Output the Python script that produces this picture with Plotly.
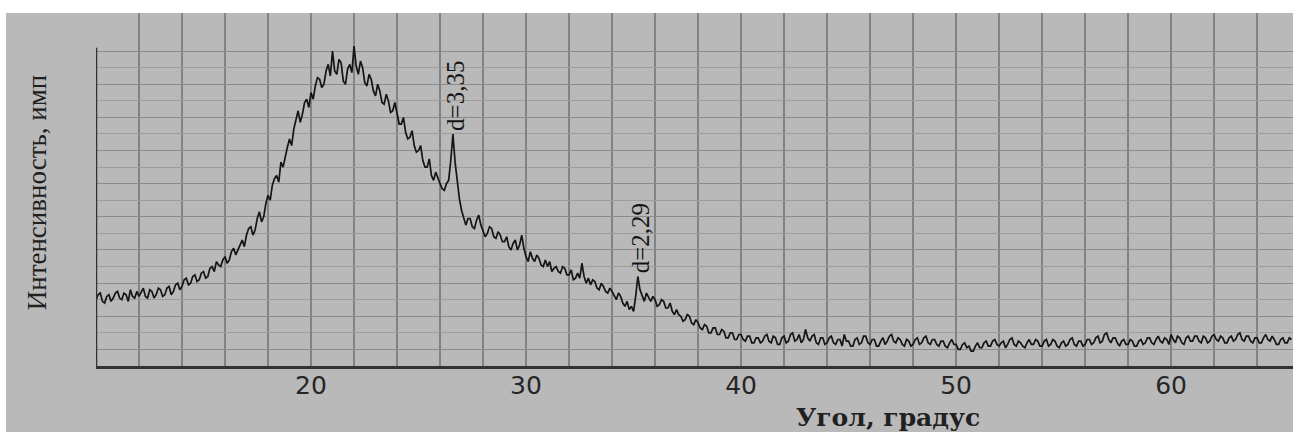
import plotly.graph_objects as go

# ---- data ----
angle_start = 10.0
angle_step = 0.1
intensity = [
    4.0, 4.3, 4.4, 3.9, 3.8, 4.2, 4.3, 3.9, 4.1, 4.4,   # 10
    4.5, 4.1, 4.0, 4.4, 4.3, 3.9, 4.6, 4.2, 4.1, 4.5,   # 11
    4.2, 4.5, 4.7, 4.2, 4.1, 4.6, 4.5, 4.1, 4.3, 4.7,   # 12
    4.6, 4.2, 4.3, 4.7, 4.8, 4.3, 4.5, 4.9, 5.0, 4.6,   # 13
    4.8, 5.2, 5.3, 4.9, 5.0, 5.4, 5.5, 5.1, 5.2, 5.6,   # 14
    5.7, 5.3, 5.4, 5.9, 6.0, 5.7, 6.3, 6.1, 6.0, 6.4,   # 15
    6.6, 6.2, 6.4, 6.9, 7.1, 6.7, 7.0, 7.4, 7.6, 7.2,   # 16
    7.9, 8.3, 8.4, 7.9, 8.2, 8.9, 9.3, 8.7, 9.0, 9.8,   # 17
    10.3, 10.0, 10.9, 11.3, 11.5, 11.1, 12.3, 12.0, 12.7, 13.2,  # 18
    13.7, 13.3, 14.3, 14.8, 15.4, 14.7, 15.2, 15.9, 16.1, 15.6,  # 19
    16.5, 16.1, 16.9, 17.4, 17.3, 16.8, 17.0, 17.8, 18.2, 17.5,  # 20
    19.0, 17.8, 17.6, 18.5, 18.3, 17.2, 17.0, 17.9, 18.2, 17.7,  # 21
    19.3, 18.1, 17.6, 18.4, 18.0, 17.1, 16.9, 17.6, 17.3, 16.6,  # 22
    16.3, 17.0, 16.6, 15.9, 15.8, 16.4, 16.0, 15.3, 15.4, 15.9,  # 23
    15.2, 14.6, 14.6, 15.0, 14.1, 13.7, 13.8, 14.2, 13.3, 12.9,  # 24
    13.0, 13.3, 12.4, 12.0, 12.0, 12.5, 11.5, 11.2, 11.7, 11.3,  # 25
    11.0, 10.7, 10.6, 11.0, 11.2, 12.4, 14.0, 12.3, 11.0, 10.1,  # 26
    9.4, 8.9, 8.5, 8.9, 8.9, 8.4, 8.3, 8.8, 9.1, 8.5,   # 27
    8.2, 7.8, 8.0, 8.4, 8.3, 7.8, 7.7, 8.1, 7.9, 7.5,   # 28
    7.5, 7.8, 7.2, 7.0, 7.4, 7.6, 7.0, 7.3, 7.9, 7.1,   # 29
    6.6, 6.3, 6.9, 6.5, 6.3, 6.7, 6.5, 6.1, 6.0, 6.4,   # 30
    6.0, 6.3, 5.7, 5.9, 6.0, 5.7, 5.6, 6.0, 5.9, 5.5,   # 31
    5.5, 5.8, 5.2, 5.3, 5.6, 5.3, 6.2, 5.4, 5.0, 5.3,   # 32
    4.9, 5.2, 5.1, 4.7, 4.6, 5.0, 4.8, 4.5, 4.4, 4.7,   # 33
    4.5, 4.2, 4.0, 4.4, 4.2, 3.8, 3.6, 3.9, 3.4, 3.6,   # 34
    3.3, 4.2, 5.4, 4.6, 4.2, 3.9, 4.4, 4.1, 3.9, 4.2,   # 35
    4.0, 3.6, 3.7, 4.0, 3.9, 3.5, 3.5, 3.8, 3.3, 3.1,   # 36
    3.4, 3.1, 3.0, 2.7, 2.8, 3.1, 3.0, 2.6, 2.5, 2.8,   # 37
    2.6, 2.3, 2.2, 2.5, 2.4, 2.0, 2.0, 2.3, 2.3, 1.9,   # 38
    1.9, 2.2, 2.1, 1.7, 1.7, 2.0, 2.0, 1.6, 1.6, 1.9,   # 39
    1.9, 1.6, 1.5, 1.8, 1.8, 1.4, 1.4, 1.7, 1.7, 1.4,   # 40
    1.5, 1.8, 1.9, 1.5, 1.4, 1.8, 1.7, 1.3, 1.3, 1.7,   # 41
    1.8, 1.4, 1.5, 1.9, 2.0, 1.5, 1.6, 1.9, 1.4, 1.6,   # 42
    2.2, 1.7, 1.5, 1.8, 1.9, 1.4, 1.3, 1.7, 1.7, 1.3,   # 43
    1.4, 1.7, 1.8, 1.4, 1.3, 1.6, 1.6, 1.2, 1.9, 1.5,   # 44
    1.5, 1.2, 1.2, 1.6, 1.7, 1.3, 1.4, 1.8, 1.8, 1.4,   # 45
    1.3, 1.6, 1.6, 1.2, 1.2, 1.5, 1.7, 1.3, 1.5, 1.8,   # 46
    1.9, 1.5, 1.4, 1.7, 1.6, 1.3, 1.2, 1.6, 1.5, 1.2,   # 47
    1.3, 1.6, 1.7, 1.3, 1.4, 1.7, 1.8, 1.4, 1.3, 1.6,   # 48
    1.6, 1.3, 1.2, 1.5, 1.5, 1.2, 1.1, 1.4, 1.6, 1.3,   # 49
    1.3, 1.0, 1.0, 1.3, 1.4, 1.1, 1.2, 0.9, 0.9, 1.2,   # 50
    1.4, 1.1, 1.1, 1.4, 1.5, 1.2, 1.2, 1.5, 1.6, 1.3,   # 51
    1.2, 1.4, 1.5, 1.1, 1.3, 1.6, 1.7, 1.3, 1.2, 1.5,   # 52
    1.4, 1.2, 1.1, 1.4, 1.6, 1.3, 1.3, 1.6, 1.5, 1.2,   # 53
    1.2, 1.5, 1.6, 1.2, 1.3, 1.6, 1.5, 1.2, 1.1, 1.4,   # 54
    1.5, 1.2, 1.3, 1.6, 1.7, 1.3, 1.2, 1.5, 1.5, 1.2,   # 55
    1.3, 1.6, 1.6, 1.3, 1.4, 1.7, 1.8, 1.4, 1.5, 1.9,   # 56
    2.0, 1.6, 1.4, 1.7, 1.7, 1.4, 1.2, 1.5, 1.6, 1.3,   # 57
    1.3, 1.6, 1.5, 1.2, 1.2, 1.5, 1.6, 1.3, 1.4, 1.7,   # 58
    1.7, 1.4, 1.3, 1.6, 1.8, 1.5, 1.4, 1.7, 1.6, 1.3,   # 59
    1.9, 1.6, 1.4, 1.8, 1.7, 1.4, 1.3, 1.7, 1.8, 1.5,   # 60
    1.5, 1.8, 1.8, 1.5, 1.4, 1.8, 1.7, 1.4, 1.5, 1.8,   # 61
    1.9, 1.6, 1.5, 1.8, 1.7, 1.4, 1.4, 1.7, 1.8, 1.5,   # 62
    1.6, 1.9, 2.0, 1.6, 1.5, 1.8, 1.8, 1.5, 1.4, 1.7,   # 63
    1.7, 1.4, 1.4, 1.7, 1.9, 1.6, 1.5, 1.8, 1.6, 1.3,   # 64
    1.3, 1.6, 1.7, 1.4, 1.4, 1.7, 1.6,                  # 65
]
angles = [round(angle_start + i * angle_step, 1) for i in range(len(intensity))]

peak_angles = [26.6, 35.2]
peak_values = [14.0, 5.4]
peak_labels = ["d=3,35", "d=2,29"]

x_tick_vals = [20, 30, 40, 50, 60]
x_tick_text = ["20", "30", "40", "50", "60"]
x_grid_vals = list(range(10, 66, 2))
y_grid_major = [1, 3, 5, 7, 9, 11, 13, 15, 17, 19]
y_grid_minor = [2, 4, 6, 8, 10, 12, 14, 16, 18]

x_title = "Угол, градус"
y_title = "Интенсивность, имп"

BG = "#b9b9b9"

fig = go.Figure()
fig.add_trace(go.Scatter(
    x=angles, y=intensity, mode="lines",
    line=dict(color="#151515", width=1.7),
    showlegend=False, hoverinfo="x+y",
))

for a, v, t in zip(peak_angles, peak_values, peak_labels):
    fig.add_annotation(
        x=a, y=v, text=t, textangle=-90, showarrow=False,
        xanchor="center", yanchor="bottom", xshift=3, yshift=1,
        font=dict(family="Liberation Serif", size=25, color="#151515"),
    )

# x-axis title and y-axis title
fig.add_annotation(
    xref="paper", yref="paper", x=0.662, y=-0.147, text=x_title,
    showarrow=False, xanchor="center", yanchor="middle",
    font=dict(family="DejaVu Serif", size=25, color="#202020", weight="bold"),
)
fig.add_annotation(
    xref="paper", yref="paper", x=-0.049, y=0.493, text=y_title,
    textangle=-90, showarrow=False, xanchor="center", yanchor="middle",
    font=dict(family="Liberation Serif", size=27, color="#202020"),
)

# left axis line (only to the top gridline), white strips outside grey panel
fig.add_shape(type="line", xref="x", yref="y", x0=10, x1=10, y0=0, y1=19.2,
              line=dict(color="#333333", width=2.5))
fig.add_shape(type="rect", xref="paper", yref="paper", x0=-0.1, x1=1.01,
              y0=1.0, y1=1.1, fillcolor="white", line=dict(width=0))
fig.add_shape(type="rect", xref="paper", yref="paper", x0=-0.1, x1=-0.0752,
              y0=-0.3, y1=1.1, fillcolor="white", line=dict(width=0))

fig.update_xaxes(
    range=[10, 65.67],
    tickmode="array", tickvals=x_tick_vals, ticktext=x_tick_text,
    showgrid=True, gridcolor="#828282", gridwidth=1.5,
    minor=dict(tickmode="array", tickvals=x_grid_vals, showgrid=True,
               gridcolor="#828282", gridwidth=1.5),
    showline=True, linecolor="#333333", linewidth=2.5,
    ticks="", ticklabelstandoff=-5,
    tickfont=dict(family="DejaVu Sans", size=25, color="#262626"),
    zeroline=False,
)
fig.update_yaxes(
    range=[0, 21.3],
    tickmode="array", tickvals=y_grid_major, showticklabels=False,
    showgrid=True, gridcolor="#8c8c8c", gridwidth=1,
    minor=dict(tickmode="array", tickvals=y_grid_minor, showgrid=True,
               gridcolor="#9d9d9d", gridwidth=1),
    showline=False, zeroline=False, ticks="",
)

fig.update_layout(
    width=1293, height=432,
    margin=dict(l=96, r=0, t=13, b=66),
    paper_bgcolor=BG, plot_bgcolor=BG,
    showlegend=False,
)

fig.write_html("out.html", config={"displayModeBar": False},
               post_script="document.body.style.margin='0px';")
